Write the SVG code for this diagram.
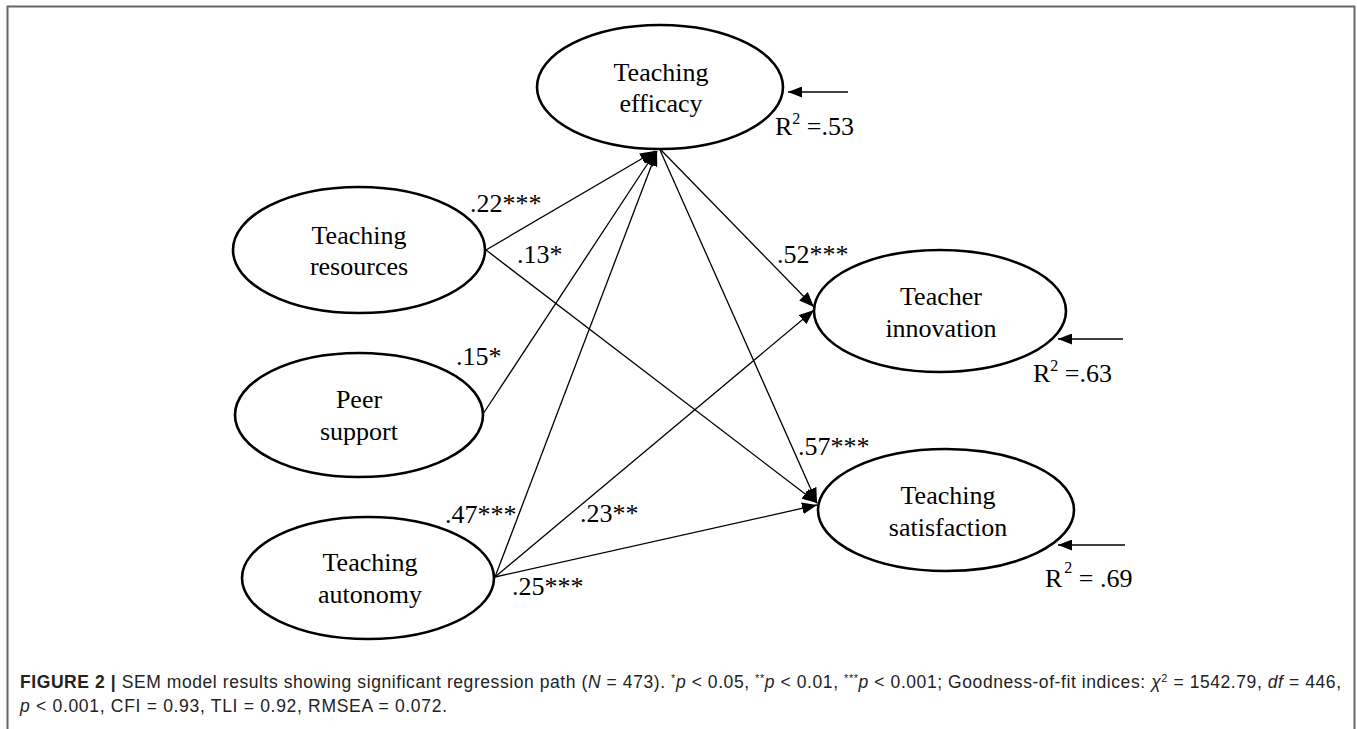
<svg xmlns="http://www.w3.org/2000/svg" width="1357" height="729" viewBox="0 0 1357 729">
<style>
.node ellipse{fill:#fff;stroke:#000;stroke-width:2.6}
.nt{font-family:"Liberation Serif","Times New Roman",serif;font-size:26px;fill:#000;text-anchor:middle}
.lbl{font-family:"Liberation Serif","Times New Roman",serif;font-size:26px;fill:#000}
.edges line{stroke:#000;stroke-width:1.3;fill:none}
.cap{font-family:"Liberation Sans",Arial,sans-serif;font-size:17.5px;fill:#222}
</style>
<defs>
<marker id="big" markerUnits="userSpaceOnUse" markerWidth="15" markerHeight="12" refX="15" refY="6" orient="auto">
<path d="M0,0 L15,6 L0,12 z" fill="#000"/>
</marker>
<marker id="small" markerUnits="userSpaceOnUse" markerWidth="14" markerHeight="11" refX="14" refY="5.5" orient="auto">
<path d="M0,0 L14,5.5 L0,11 z" fill="#000"/>
</marker>
</defs>
<rect width="1357" height="729" fill="#fff"/>
<path d="M7.5,729 V6.5 H1354.5 V729" fill="none" stroke="#666" stroke-width="2"/>

<g class="edges" id="connectors">
<line x1="486" y1="250" x2="655" y2="151" marker-end="url(#big)"/>
<line x1="483" y1="414" x2="656" y2="151" marker-end="url(#big)"/>
<line x1="495" y1="577" x2="657" y2="151" marker-end="url(#big)"/>
<line x1="661" y1="150" x2="814" y2="307" marker-end="url(#big)"/>
<line x1="660" y1="150" x2="817" y2="503" marker-end="url(#big)"/>
<line x1="486" y1="250" x2="817" y2="503" marker-end="url(#big)"/>
<line x1="495" y1="577" x2="814" y2="310" marker-end="url(#big)"/>
<line x1="495" y1="577" x2="817" y2="505" marker-end="url(#big)"/>
<line x1="848" y1="92" x2="788" y2="92" marker-end="url(#small)"/>
<line x1="1123" y1="339" x2="1058" y2="339" marker-end="url(#small)"/>
<line x1="1125" y1="545" x2="1058" y2="545" marker-end="url(#small)"/>
</g>

<g class="node" id="teaching-efficacy">
<ellipse cx="660" cy="87" rx="123" ry="62"/>
<text class="nt" x="661" y="81">Teaching</text>
<text class="nt" x="661" y="112">efficacy</text>
</g>
<g class="node" id="teaching-resources">
<ellipse cx="359" cy="250" rx="126" ry="63"/>
<text class="nt" x="359" y="244">Teaching</text>
<text class="nt" x="359" y="275">resources</text>
</g>
<g class="node" id="peer-support">
<ellipse cx="359" cy="415" rx="124" ry="62"/>
<text class="nt" x="359" y="408">Peer</text>
<text class="nt" x="359" y="440">support</text>
</g>
<g class="node" id="teaching-autonomy">
<ellipse cx="368" cy="578" rx="126" ry="61"/>
<text class="nt" x="370" y="571">Teaching</text>
<text class="nt" x="370" y="603">autonomy</text>
</g>
<g class="node" id="teacher-innovation">
<ellipse cx="940" cy="311" rx="126" ry="61"/>
<text class="nt" x="941" y="305">Teacher</text>
<text class="nt" x="941" y="337">innovation</text>
</g>
<g class="node" id="teaching-satisfaction">
<ellipse cx="946" cy="510" rx="128" ry="61"/>
<text class="nt" x="948" y="504">Teaching</text>
<text class="nt" x="948" y="536">satisfaction</text>
</g>

<g id="path-labels">
<text class="lbl" x="470" y="212">.22***</text>
<text class="lbl" x="517" y="263">.13*</text>
<text class="lbl" x="456" y="365">.15*</text>
<text class="lbl" x="445" y="523">.47***</text>
<text class="lbl" x="580" y="522">.23**</text>
<text class="lbl" x="512" y="595">.25***</text>
<text class="lbl" x="777" y="263">.52***</text>
<text class="lbl" x="798" y="455">.57***</text>
</g>

<g id="r2-labels">
<text class="lbl" x="775" y="135">R<tspan font-size="16" dy="-11">2</tspan><tspan dy="11"> =.53</tspan></text>
<text class="lbl" x="1033" y="382">R<tspan font-size="16" dy="-11">2</tspan><tspan dy="11"> =.63</tspan></text>
<text class="lbl" x="1045" y="587">R<tspan font-size="16" dy="-14" dx="2">2</tspan><tspan dy="14"> = .69</tspan></text>
</g>

<g id="caption">
<text class="cap" x="20" y="688" textLength="1321" lengthAdjust="spacing"><tspan font-weight="bold">FIGURE 2 |</tspan> SEM model results showing significant regression path (<tspan font-style="italic">N</tspan> = 473). <tspan font-size="11" baseline-shift="super">*</tspan><tspan font-style="italic">p</tspan> &lt; 0.05, <tspan font-size="11" baseline-shift="super">**</tspan><tspan font-style="italic">p</tspan> &lt; 0.01, <tspan font-size="11" baseline-shift="super">***</tspan><tspan font-style="italic">p</tspan> &lt; 0.001; Goodness-of-fit indices: <tspan font-style="italic">χ</tspan><tspan font-size="11" baseline-shift="super">2</tspan> = 1542.79, <tspan font-style="italic">df</tspan> = 446,</text>
<text class="cap" x="20" y="712" textLength="427" lengthAdjust="spacing"><tspan font-style="italic">p</tspan> &lt; 0.001, CFI = 0.93, TLI = 0.92, RMSEA = 0.072.</text>
</g>
</svg>
